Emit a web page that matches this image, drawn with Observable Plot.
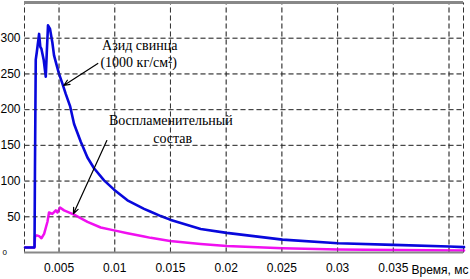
<!DOCTYPE html>
<html>
<head>
<meta charset="utf-8">
<script src="https://cdn.jsdelivr.net/npm/d3@7"></script>
<script src="https://cdn.jsdelivr.net/npm/@observablehq/plot@0.6"></script>
<style>
  html, body { margin: 0; padding: 0; background: #fff; }
</style>
</head>
<body>
<div id="chart"></div>
<script>
// Азид свинца (blue)
const tBlue = [0.00195, 0.00276, 0.00280, 0.00284, 0.00291, 0.00300, 0.00321, 0.00332, 0.00342, 0.00362, 0.00381, 0.00390, 0.00401, 0.00419, 0.00440, 0.00455, 0.00479, 0.00500, 0.00531, 0.00560, 0.00599, 0.00635, 0.00695, 0.00755, 0.00814, 0.00904, 0.00994, 0.01114, 0.01263, 0.01323, 0.01413, 0.01496, 0.01771, 0.02005, 0.02505, 0.03004, 0.03501, 0.04000, 0.04135];
const vBlue = [7, 7, 8, 120, 270, 280, 306, 288, 285, 270, 246, 280, 318, 313, 294, 276, 262, 250, 236, 222, 205, 180, 155, 133, 118, 101, 88, 73, 61, 57, 51, 46, 33, 27.5, 18, 13, 10.7, 8.4, 7.5];
// Воспламенительный состав (magenta)
const tMag = [0.00195, 0.00280, 0.00284, 0.00300, 0.00321, 0.00342, 0.00366, 0.00396, 0.00410, 0.00440, 0.00471, 0.00486, 0.00509, 0.00545, 0.00635, 0.00755, 0.00874, 0.00994, 0.01114, 0.01263, 0.01323, 0.01496, 0.01771, 0.02005, 0.02505, 0.03004, 0.03501, 0.04135];
const vMag = [7, 7, 22, 24, 23, 20, 26, 43, 56, 54, 59, 56, 63, 59, 53, 43, 35, 31, 27, 22.5, 20.5, 16, 12, 9, 6, 4.2, 3.6, 2.8];

const xTicks = [0.005, 0.01, 0.015, 0.02, 0.025, 0.03, 0.035, 0.04];
const xTickLabels = ["0.005", "0.01", "0.015", "0.02", "0.025", "0.03", "0.035", ""];
const yTicks = [50, 100, 150, 200, 250, 300];
const xDomain = [0.0019, 0.0413];
const yDomain = [0, 350];
const xLabel = "Время, мс";
const labelBlue = ["Азид свинца", "(1000 кг/см²)"];
const labelMag = ["Воспламенительный", "состав"];

const blue = tBlue.map((t, i) => ({t, v: vBlue[i]}));
const mag = tMag.map((t, i) => ({t, v: vMag[i]}));
const annotations = [
  {t: 0.01224, v: 290, text: labelBlue[0]},
  {t: 0.01215, v: 266, text: labelBlue[1]},
  {t: 0.01503, v: 185, text: labelMag[0]},
  {t: 0.01520, v: 160, text: labelMag[1]}
];
const arrows = [
  {t1: 0.00848, v1: 264.6, t2: 0.00542, v2: 233.8},
  {t1: 0.00929, v1: 156.8, t2: 0.00629, v2: 54.2}
];
const gridLinks = [
  ...[xDomain[0], ...xTicks, xDomain[1]].map(t => ({x1: t, x2: t, y1: yDomain[0], y2: yDomain[1]})),
  ...yTicks.map(v => ({x1: xDomain[0], x2: xDomain[1], y1: v, y2: v}))
];
const zeroLabel = [{t: xDomain[0], v: 0, text: "0"}];
const axisLabel = [{t: xDomain[1], v: 0, text: xLabel}];
const gridStyle = {stroke: "#333", strokeWidth: 1, strokeDasharray: "5,3"};

const plot = Plot.plot({
  width: 470, height: 279,
  marginLeft: 24, marginRight: 7, marginTop: 2, marginBottom: 27,
  style: {fontFamily: "'Liberation Sans', Arial, sans-serif", fontSize: "12px", background: "#fff", color: "#000"},
  x: {domain: xDomain, label: null},
  y: {domain: yDomain, label: null},
  marks: [
    Plot.link(gridLinks, {x1: "x1", x2: "x2", y1: "y1", y2: "y2", ...gridStyle}),
    Plot.axisX(xTicks, {tickSize: 0, tickPadding: 11, tickFormat: (d, i) => xTickLabels[i], fontSize: 12, fill: "#000", label: null}),
    Plot.axisY(yTicks, {tickSize: 0, tickPadding: 4, fontSize: 12, fill: "#000", label: null}),
    Plot.line(mag, {x: "t", y: "v", stroke: "#f010f0", strokeWidth: 2.5}),
    Plot.line(blue, {x: "t", y: "v", stroke: "#0808dc", strokeWidth: 2.6}),
    Plot.link(gridLinks, {x1: "x1", x2: "x2", y1: "y1", y2: "y2", ...gridStyle, strokeOpacity: 0.35}),
    Plot.ruleY([0], {stroke: "#888", strokeWidth: 2}),
    Plot.ruleY([yDomain[1]], {stroke: "#888", strokeWidth: 3}),
    Plot.text(zeroLabel, {x: "t", y: "v", text: "text", dx: -22, textAnchor: "start", fontSize: 8, fill: "#000"}),
    Plot.text(axisLabel, {x: "t", y: "v", text: "text", dx: 5, dy: 18, textAnchor: "end", fontSize: 12, fill: "#000"}),
    Plot.arrow(arrows, {x1: "t1", y1: "v1", x2: "t2", y2: "v2", stroke: "#000", strokeWidth: 1.2, headLength: 8, headAngle: 45}),
    Plot.text(annotations, {x: "t", y: "v", text: "text", fontFamily: "'Liberation Serif', 'Times New Roman', serif", fontSize: 14, fill: "#000"})
  ]
});
document.getElementById("chart").appendChild(plot);
</script>
</body>
</html>
